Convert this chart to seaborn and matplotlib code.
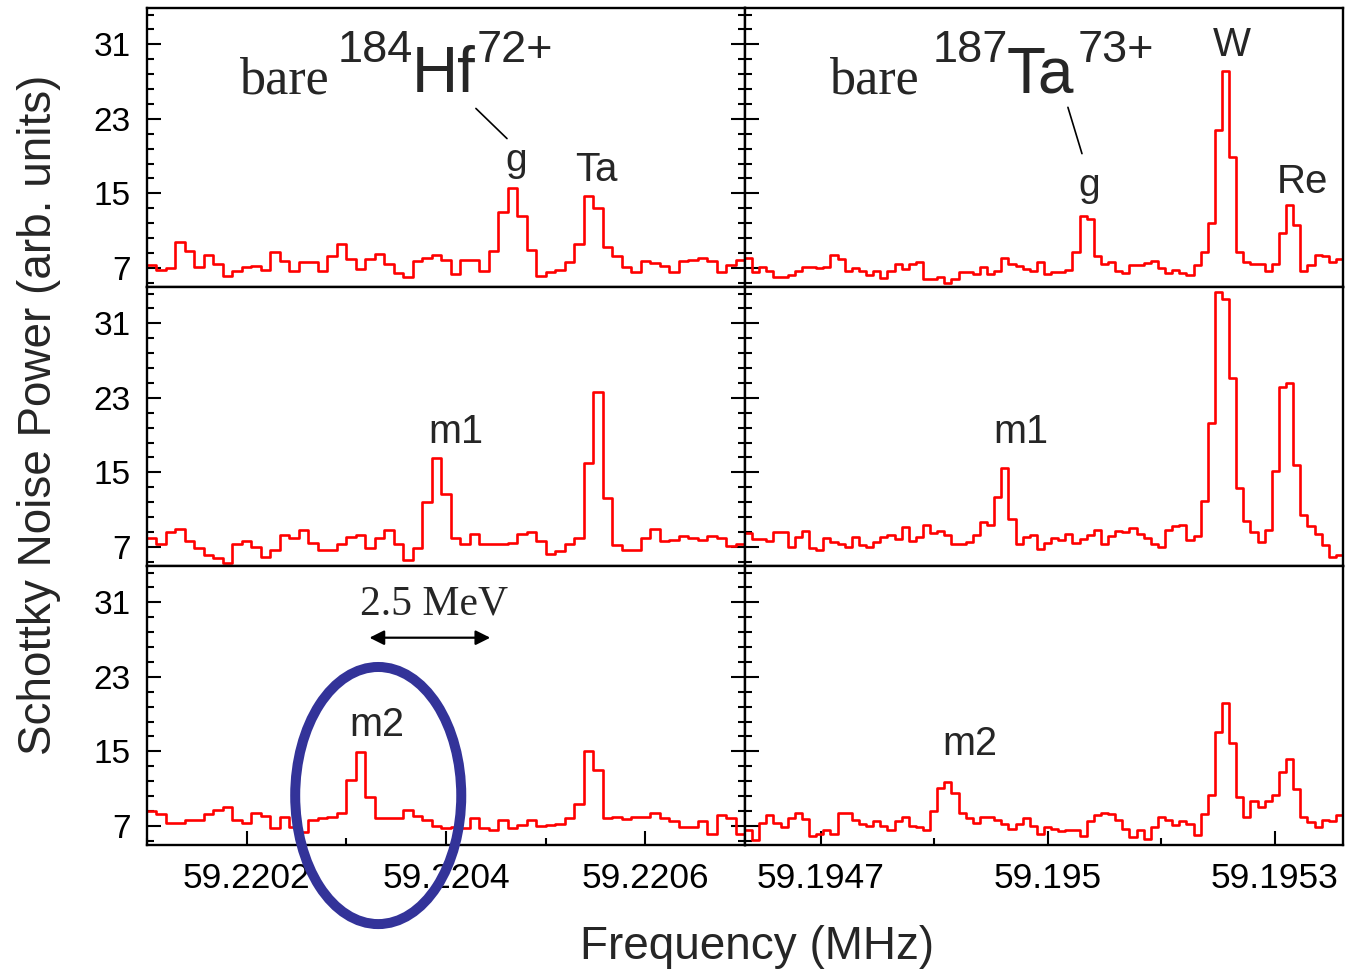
import numpy as np
import pandas as pd
import matplotlib
matplotlib.use("Agg")
import matplotlib.pyplot as plt
import seaborn as sns
from matplotlib.patches import Ellipse

# ---------------- data ----------------
hf_range = (59.22010, 59.22070)   # MHz, left column
ta_range = (59.19460, 59.19539)   # MHz, right column

hf_ground = [7.36, 6.82, 7.0, 9.8, 8.86, 7.07, 8.36, 7.47, 6.1, 6.64,
             7.1, 7.25, 6.82, 8.68, 7.72, 6.71, 7.6, 7.6, 6.71, 8.25,
             9.6, 7.97, 6.9, 7.97, 8.5, 7.47, 6.4, 6.03, 7.72, 8.08,
             8.36, 7.9, 6.35, 7.9, 7.9, 6.71, 8.86, 13.02, 15.6, 12.56,
             8.97, 6.1, 6.53, 6.82, 7.6, 9.58, 14.7, 13.45, 9.22, 8.25,
             7.1, 6.53, 7.72, 7.54, 7.25, 6.57, 7.72, 7.9, 8.04, 7.72,
             6.57, 7.36, 7.9]
hf_m1 = [7.97, 7.29, 8.61, 8.9, 7.6, 6.9, 6.1, 5.82, 5.28, 7.36,
         7.65, 7.0, 5.92, 6.71, 8.25, 7.97, 8.8, 7.47, 6.71, 6.71,
         7.36, 8.08, 8.25, 6.93, 7.97, 8.8, 7.36, 5.57, 6.9, 11.84,
         16.5, 12.73, 7.97, 7.29, 8.43, 7.29, 7.29, 7.29, 7.43, 8.43,
         8.61, 7.65, 6.21, 6.53, 7.36, 7.97, 16.03, 23.67, 12.3, 7.18,
         6.71, 6.71, 7.97, 8.9, 7.6, 7.79, 8.15, 8.0, 7.79, 8.15,
         7.97, 7.1, 7.29]
hf_m2 = [8.61, 8.25, 7.32, 7.32, 7.68, 7.68, 8.33, 8.68, 9.04, 7.68,
         7.32, 8.43, 8.04, 6.82, 7.97, 6.89, 6.35, 7.68, 7.86, 7.97,
         8.43, 11.91, 14.96, 10.12, 7.86, 7.86, 7.86, 8.76, 8.08, 7.68,
         6.96, 6.78, 6.89, 6.78, 7.86, 6.82, 6.53, 7.68, 6.78, 7.14,
         7.68, 6.96, 7.07, 7.25, 7.86, 9.33, 15.06, 12.99, 7.86, 7.97,
         7.79, 7.97, 7.97, 8.43, 7.86, 7.5, 6.89, 6.89, 7.5, 6.18,
         8.15, 7.86, 6.18]

ta_ground = [8.07, 6.54, 7.14, 6.72, 6.07, 6.07, 6.25, 6.72, 7.14, 7.14,
             6.96, 7.14, 8.39, 7.93, 6.72, 7.0, 6.72, 6.25, 6.72, 5.93,
             6.72, 7.43, 6.86, 7.43, 7.68, 5.83, 5.83, 6.07, 5.43, 5.83,
             6.54, 6.54, 6.36, 7.14, 6.36, 6.72, 8.07, 7.43, 7.25, 6.86,
             6.72, 7.6,
             6.39, 6.57, 6.57, 6.75, 8.72, 12.59, 12.23, 8.25, 7.47, 7.64,
             6.64, 6.5, 7.36, 7.36, 7.54, 7.75, 7.0, 6.5, 6.75, 6.5,
             6.28, 7.36, 8.72, 11.83, 21.79, 28.12, 18.92, 8.72, 7.64, 7.39,
             7.39, 6.64, 7.47, 10.76, 13.8, 11.58, 6.68, 7.36, 8.43, 8.25,
             7.64, 7.93]
ta_m1 = [8.44, 7.83, 7.83, 7.65, 8.62, 8.62, 7.0, 8.01, 8.73, 6.93,
         6.71, 7.97, 7.54, 7.36, 7.0, 8.08, 7.18, 7.0, 7.54, 8.08,
         8.26, 7.9, 9.16, 7.65, 8.01, 9.34, 8.44, 8.73, 8.26, 7.29,
         7.29, 7.54, 8.26, 9.7, 9.34, 12.33, 15.47, 9.95, 7.36, 8.01,
         8.26, 6.82,
         7.47, 7.94, 7.76, 8.37, 7.47, 7.86, 8.3, 8.84, 7.29, 8.19,
         8.66, 8.55, 9.02, 8.41, 7.94, 7.32, 7.04, 8.84, 9.2, 9.34,
         7.76, 8.12, 11.97, 20.3, 34.35, 33.6, 25.13, 13.31, 9.74, 8.55,
         7.58, 8.84, 15.11, 24.15, 24.62, 15.76, 10.42, 9.27, 8.41, 7.22,
         5.95, 6.14]
ta_m2 = [6.53, 5.46, 7.36, 8.15, 7.36, 6.89, 7.86, 8.43, 7.72, 5.89,
         6.1, 6.61, 6.1, 8.43, 8.43, 7.68, 7.18, 7.0, 7.5, 7.0,
         6.53, 7.5, 7.97, 7.0, 6.89, 6.53, 8.61, 11.09, 11.73, 10.48,
         8.4, 7.86, 7.32, 7.97, 7.97, 7.61, 7.18, 6.71, 7.25, 7.86,
         7.0, 6.18, 6.89, 6.71, 6.43, 6.61, 6.61, 5.89, 7.5, 8.15,
         8.4, 8.25, 7.68, 6.71, 5.82, 6.61, 5.64, 6.89, 7.97, 7.68,
         7.14, 7.5, 7.18, 6.07, 8.25, 10.3, 17.11, 20.23, 15.92, 10.12,
         7.97, 9.69, 9.04, 9.69, 10.3, 12.81, 14.17, 11.01, 7.97, 7.43,
         6.89, 7.68, 7.5, 8.15]

y_major = [7, 15, 23, 31]
y_minor_step = 1.6
y_limits = (4.95, 34.9)
hf_xticks = [59.2202, 59.2204, 59.2206]
hf_xticklabels = ["59.2202", "59.2204", "59.2206"]
hf_xminor = [59.2201, 59.2203, 59.2205, 59.2207]
ta_xticks = [59.1947, 59.1950, 59.1953]
ta_xticklabels = ["59.1947", "59.195", "59.1953"]
ta_xminor = [59.19485, 59.19515]

# ---------------- style ----------------
sns.set_style("ticks")
plt.rcParams["font.family"] = ["Liberation Sans", "DejaVu Sans"]
SANS = ["Liberation Sans", "DejaVu Sans"]
SERIF = ["Liberation Serif", "DejaVu Serif"]
RED = "#ff0000"

fig, axes = plt.subplots(3, 2, figsize=(13.45, 9.72), dpi=100)
plt.subplots_adjust(left=147/1345, right=1343/1345, top=1-8/972,
                    bottom=1-845/972, wspace=0, hspace=0)

panels = [[(hf_ground, hf_range), (ta_ground, ta_range)],
          [(hf_m1, hf_range), (ta_m1, ta_range)],
          [(hf_m2, hf_range), (ta_m2, ta_range)]]

y_minor = [v for v in np.arange(y_limits[0] + 0.45, y_limits[1], y_minor_step)
           if min(abs(v - m) for m in y_major) > 0.1]

for r in range(3):
    for c in range(2):
        ax = axes[r, c]
        vals, rng = panels[r][c]
        n = len(vals)
        edges = np.linspace(rng[0], rng[1], n + 1)
        df = pd.DataFrame({"f": edges, "p": list(vals) + [vals[-1]]})
        sns.lineplot(data=df, x="f", y="p", ax=ax, color=RED, lw=1.9,
                     drawstyle="steps-post", estimator=None, sort=False,
                     legend=False)
        ax.set_xlim(*rng)
        ax.set_ylim(*y_limits)
        ax.set_xlabel("")
        ax.set_ylabel("")
        for s in ax.spines.values():
            s.set_visible(True)
            s.set_color("black")
            s.set_linewidth(1.7)
        ax.set_yticks(y_major)
        ax.set_yticks(y_minor, minor=True)
        ax.tick_params(axis="y", which="both", direction="in", width=1.5,
                       left=True, right=(c == 0), labelleft=(c == 0),
                       labelright=False, labelsize=24, pad=12, colors="black")
        ax.tick_params(axis="y", which="major", length=10)
        ax.tick_params(axis="y", which="minor", length=5)
        if c == 0:
            ax.set_yticklabels([str(v) for v in y_major])
        if c == 0:
            ax.set_xticks(hf_xticks)
            ax.set_xticks(hf_xminor, minor=True)
            ax.set_xticklabels(hf_xticklabels)
        else:
            ax.set_xticks(ta_xticks)
            ax.set_xticks(ta_xminor, minor=True)
            ax.set_xticklabels(ta_xticklabels)
        if r == 2:
            ax.tick_params(axis="x", which="both", direction="in", width=1.5,
                           bottom=True, top=False, labelbottom=True,
                           labelsize=25.5, pad=12, colors="black")
            ax.tick_params(axis="x", which="major", length=10)
            ax.tick_params(axis="x", which="minor", length=5)
        else:
            ax.tick_params(axis="x", which="both", bottom=False, top=False,
                           labelbottom=False)
        ax.grid(False)

# ---------------- annotations ----------------
def seg(ax, p0, p1):
    ax.plot([p0[0], p1[0]], [p0[1], p1[1]], color="black", lw=1.2,
            transform=ax.transAxes, clip_on=False)

a = axes[0, 0]
a.text(0.1555, 0.694, "bare", transform=a.transAxes, family=SERIF, fontsize=37.5,
       ha="left", va="baseline")
a.text(0.318, 0.806, "184", transform=a.transAxes, family=SANS, fontsize=32.5,
       ha="left", va="baseline")
a.text(0.443, 0.698, "Hf", transform=a.transAxes, family=SANS, fontsize=46,
       ha="left", va="baseline")
a.text(0.552, 0.806, "72+", transform=a.transAxes, family=SANS, fontsize=32.5,
       ha="left", va="baseline")
seg(a, (0.550, 0.640), (0.602, 0.532))
a.text(0.617, 0.417, "g", transform=a.transAxes, fontsize=28, ha="center", va="baseline")
a.text(0.751, 0.381, "Ta", transform=a.transAxes, fontsize=29, ha="center", va="baseline")

a = axes[0, 1]
a.text(0.142, 0.694, "bare", transform=a.transAxes, family=SERIF, fontsize=37.5,
       ha="left", va="baseline")
a.text(0.313, 0.806, "187", transform=a.transAxes, family=SANS, fontsize=32.5,
       ha="left", va="baseline")
a.text(0.438, 0.698, "Ta", transform=a.transAxes, family=SANS, fontsize=46,
       ha="left", va="baseline")
a.text(0.556, 0.806, "73+", transform=a.transAxes, family=SANS, fontsize=32.5,
       ha="left", va="baseline")
seg(a, (0.540, 0.644), (0.5635, 0.478))
a.text(0.575, 0.327, "g", transform=a.transAxes, fontsize=28, ha="center", va="baseline")
a.text(0.814, 0.827, "W", transform=a.transAxes, fontsize=29, ha="center", va="baseline")
a.text(0.933, 0.338, "Re", transform=a.transAxes, fontsize=29, ha="center", va="baseline")

axes[1, 0].text(0.517, 0.441, "m1", transform=axes[1, 0].transAxes, fontsize=28.5,
                ha="center", va="baseline")
axes[1, 1].text(0.4615, 0.441, "m1", transform=axes[1, 1].transAxes, fontsize=28.5,
                ha="center", va="baseline")
axes[2, 1].text(0.376, 0.321, "m2", transform=axes[2, 1].transAxes, fontsize=28.5,
                ha="center", va="baseline")

a = axes[2, 0]
a.text(0.385, 0.39, "m2", transform=a.transAxes, fontsize=28.5, ha="center", va="baseline")
a.text(0.48, 0.827, "2.5 MeV", transform=a.transAxes, family=SERIF, fontsize=30,
       ha="center", va="baseline")
a.annotate("", xy=(0.574, 0.743), xytext=(0.372, 0.743),
           xycoords="axes fraction", textcoords="axes fraction",
           arrowprops=dict(arrowstyle="<|-|>", color="black", lw=1.6,
                           mutation_scale=22, shrinkA=0, shrinkB=0))
ell = Ellipse((59.220332, 10.26), width=0.0001666, height=27.6, fill=False,
              edgecolor="#333399", lw=7.2, clip_on=False, zorder=10)
a.add_patch(ell)

fig.text(39/1345, 1-415/972, "Schottky Noise Power (arb. units)", rotation=90,
         ha="center", va="center", fontsize=33)
fig.text(757/1345, 1-947/972, "Frequency (MHz)", ha="center", va="center",
         fontsize=33)

fig.savefig("out.png", dpi=100)
